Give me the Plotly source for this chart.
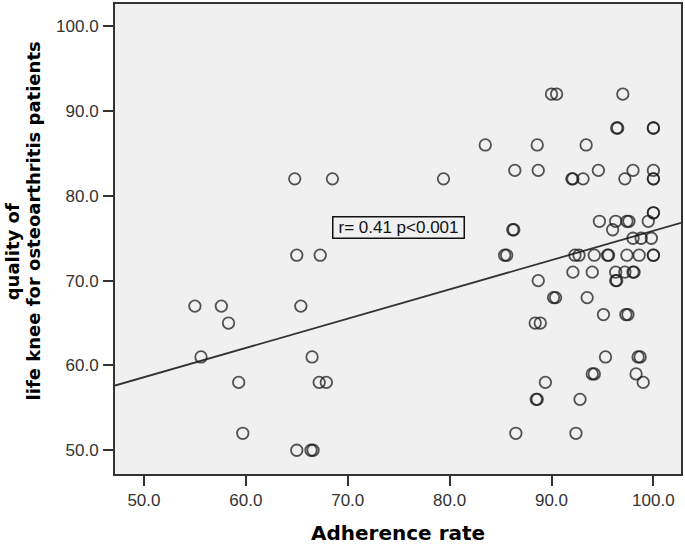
import plotly.graph_objects as go

# Adherence rate (x) and quality of life (y)
adherence = [
    55.0, 57.6, 58.3, 55.6, 59.3, 59.7,
    64.8, 68.5, 65.0, 67.3, 65.4, 66.5, 67.2, 67.9, 65.0, 66.4, 66.6,
    79.4, 83.5,
    90.0, 90.5, 97.0,
    96.4, 96.5, 100.0, 100.0,
    88.6, 93.4,
    86.4, 88.7, 94.6, 98.0, 100.0,
    92.0, 92.1, 93.1, 97.2, 100.0, 100.0,
    100.0, 100.0,
    94.7, 96.3, 97.4, 97.6, 99.5,
    86.2, 86.3, 96.0,
    98.0, 98.8, 99.8,
    85.4, 85.6, 92.3, 92.7, 94.2, 95.5, 95.6, 97.4, 98.6, 100.0, 100.0,
    92.1, 94.0, 96.3, 97.2, 98.0, 98.1,
    88.7, 96.3, 96.4,
    90.2, 90.4, 93.5,
    95.1, 97.3, 97.5,
    88.4, 88.9,
    95.3, 98.5, 98.7,
    94.0, 94.2, 98.3,
    89.4, 99.0,
    88.5, 88.6, 92.8,
    86.5, 92.4,
]
quality = [
    67, 67, 65, 61, 58, 52,
    82, 82, 73, 73, 67, 61, 58, 58, 50, 50, 50,
    82, 86,
    92, 92, 92,
    88, 88, 88, 88,
    86, 86,
    83, 83, 83, 83, 83,
    82, 82, 82, 82, 82, 82,
    78, 78,
    77, 77, 77, 77, 77,
    76, 76, 76,
    75, 75, 75,
    73, 73, 73, 73, 73, 73, 73, 73, 73, 73, 73,
    71, 71, 71, 71, 71, 71,
    70, 70, 70,
    68, 68, 68,
    66, 66, 66,
    65, 65,
    61, 61, 61,
    59, 59, 59,
    58, 58,
    56, 56, 56,
    52, 52,
]

# Fit line end points
fit_x = [47.16, 102.71]
fit_y = [57.63, 76.81]

x_ticks = [50, 60, 70, 80, 90, 100]
x_tick_labels = ["50.0", "60.0", "70.0", "80.0", "90.0", "100.0"]
y_ticks = [50, 60, 70, 80, 90, 100]
y_tick_labels = ["50.0", "60.0", "70.0", "80.0", "90.0", "100.0"]

annotation_text = "r= 0.41 p<0.001"
x_title = "Adherence rate"
y_title_1 = "quality of"
y_title_2 = "life knee for osteoarthritis patients"

AX = "#333333"
TICKFONT = dict(family="Arial, Liberation Sans, sans-serif", size=17, color="#333333")
TITLEFONT = dict(family="DejaVu Sans, Verdana, sans-serif", size=20, color="#000000")

fig = go.Figure()
fig.add_trace(go.Scatter(
    x=fit_x, y=fit_y, mode="lines",
    line=dict(color="#333333", width=1.8),
    hoverinfo="skip", showlegend=False,
))
fig.add_trace(go.Scatter(
    x=adherence, y=quality, mode="markers",
    marker=dict(symbol="circle-open", size=11.5,
                line=dict(color="rgba(25,25,25,0.74)", width=1.8),
                color="rgba(25,25,25,0.74)"),
    showlegend=False,
))

fig.update_layout(
    width=685, height=544,
    margin=dict(l=115, r=2, t=2, b=70),
    paper_bgcolor="white",
    plot_bgcolor="#f0f0f0",
    xaxis=dict(
        range=[47.16, 102.71], tickvals=x_ticks, ticktext=x_tick_labels,
        showgrid=False, zeroline=False,
        showline=True, mirror=True, linecolor=AX, linewidth=2,
        ticks="outside", ticklen=10, tickwidth=2, tickcolor=AX,
        tickfont=TICKFONT, ticklabelstandoff=0,
    ),
    yaxis=dict(
        range=[47.2, 102.62], tickvals=y_ticks, ticktext=y_tick_labels,
        showgrid=False, zeroline=False,
        showline=True, mirror=True, linecolor=AX, linewidth=2,
        ticks="outside", ticklen=10, tickwidth=2, tickcolor=AX,
        tickfont=TICKFONT, ticklabelstandoff=1,
    ),
    annotations=[
        dict(x=75.0, y=76.23, xref="x", yref="y", text=annotation_text,
             showarrow=False, font=dict(family="Arial, Liberation Sans, sans-serif", size=17, color="#111111"),
             bordercolor="#111111", borderwidth=1.5, borderpad=0,
             width=130, height=20, bgcolor="#f0f0f0"),
        dict(x=0.5, y=-0.1265, xref="paper", yref="paper", text="<b>%s</b>" % x_title,
             showarrow=False, font=TITLEFONT, xanchor="center", yanchor="middle"),
        dict(x=-0.1796, y=0.4725, xref="paper", yref="paper", text="<b>%s</b>" % y_title_1,
             showarrow=False, font=dict(family="DejaVu Sans, Verdana, sans-serif", size=18, color="#000000"),
             textangle=-90, xanchor="center", yanchor="middle"),
        dict(x=-0.1444, y=0.538, xref="paper", yref="paper", text="<b>%s</b>" % y_title_2,
             showarrow=False, font=dict(family="DejaVu Sans, Verdana, sans-serif", size=18, color="#000000"),
             textangle=-90, xanchor="center", yanchor="middle"),
    ],
)

fig.write_html(
    "out.html",
    config={"displayModeBar": False},
    post_script="document.body.style.margin='0';document.body.style.padding='0';",
)
